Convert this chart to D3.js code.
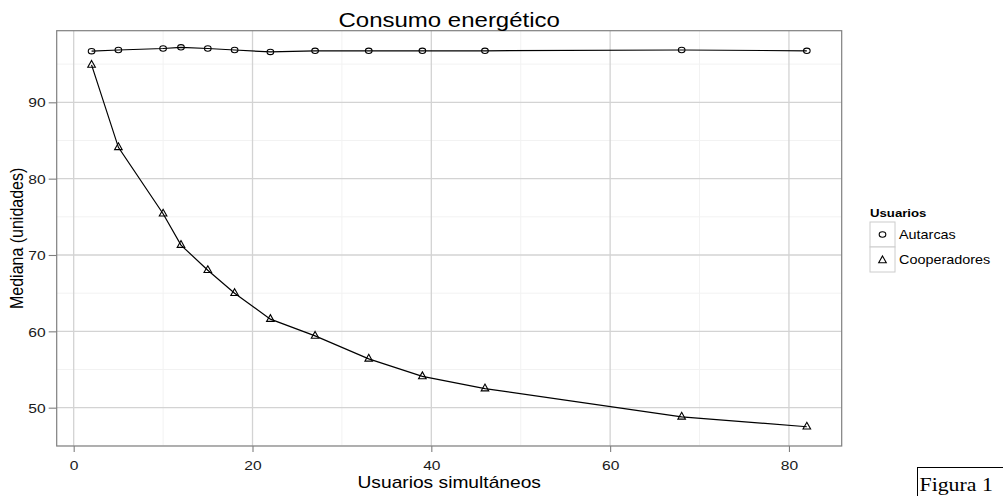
<!DOCTYPE html>
<html>
<head>
<meta charset="utf-8">
<script src="https://cdnjs.cloudflare.com/ajax/libs/d3/7.8.5/d3.min.js"></script>
<style>
  body { margin: 0; background: #fff; }
  svg { display: block; font-family: "Liberation Sans", Arial, sans-serif; }
</style>
</head>
<body>
<div id="chart"></div>
<script>
(function () {
    // Data
    const usuarios = [2, 5, 10, 12, 15, 18, 22, 27, 33, 39, 46, 68, 82];
    const autarcas = [96.7, 96.85, 97.05, 97.2, 97.05, 96.85, 96.6, 96.75, 96.75, 96.75, 96.75, 96.85, 96.75];
    const cooperadores = [94.9, 84.1, 75.4, 71.3, 68.0, 65.0, 61.6, 59.4, 56.4, 54.1, 52.5, 48.8, 47.5];
    const seriesNames = ["Autarcas", "Cooperadores"];
    const xTicks = [0, 20, 40, 60, 80];
    const yTicks = [50, 60, 70, 80, 90];
    const xMinor = [10, 30, 50, 70];
    const yMinor = [45, 55, 65, 75, 85, 95];

    // The picture is stretched horizontally, text follows that
    const sx = 1.2;

    const width = 1003, height = 496;
    const panel = { left: 56.7, right: 841.7, top: 30.7, bottom: 446 };

    const svg = d3.select("#chart")
        .append("svg")
        .attr("width", width)
        .attr("height", height);

    const x = d3.scaleLinear().domain([-1.9, 85.9]).range([panel.left, panel.right]);
    const y = d3.scaleLinear().domain([44.98, 99.38]).range([panel.bottom, panel.top]);

    // panel background
    svg.append("rect")
        .attr("x", panel.left).attr("y", panel.top)
        .attr("width", panel.right - panel.left)
        .attr("height", panel.bottom - panel.top)
        .attr("fill", "#fff");

    // minor grid
    svg.selectAll(".minor-x").data(xMinor).enter().append("line")
        .attr("x1", d => x(d)).attr("x2", d => x(d))
        .attr("y1", panel.top).attr("y2", panel.bottom)
        .attr("stroke", "#f2f2f2").attr("stroke-width", 1);
    svg.selectAll(".minor-y").data(yMinor).enter().append("line")
        .attr("y1", d => y(d)).attr("y2", d => y(d))
        .attr("x1", panel.left).attr("x2", panel.right)
        .attr("stroke", "#f2f2f2").attr("stroke-width", 1);

    // major grid
    svg.selectAll(".major-x").data(xTicks).enter().append("line")
        .attr("x1", d => x(d)).attr("x2", d => x(d))
        .attr("y1", panel.top).attr("y2", panel.bottom)
        .attr("stroke", "#d3d3d3").attr("stroke-width", 1.3);
    svg.selectAll(".major-y").data(yTicks).enter().append("line")
        .attr("y1", d => y(d)).attr("y2", d => y(d))
        .attr("x1", panel.left).attr("x2", panel.right)
        .attr("stroke", "#d3d3d3").attr("stroke-width", 1.3);

    // axes
    const xAxis = svg.append("g")
        .attr("transform", `translate(0,${panel.bottom})`)
        .call(d3.axisBottom(x).tickValues(xTicks).tickSize(6).tickFormat(d3.format("d")));
    const yAxis = svg.append("g")
        .attr("transform", `translate(${panel.left},0)`)
        .call(d3.axisLeft(y).tickValues(yTicks).tickSize(8).tickFormat(d3.format("d")));

    [xAxis, yAxis].forEach(a => {
        a.select(".domain").remove();
        a.selectAll(".tick line").attr("stroke", "#7f7f7f").attr("stroke-width", 1.1);
        a.selectAll(".tick text")
            .attr("fill", "#1a1a1a")
            .attr("font-size", "13px")
            .attr("font-family", "Liberation Sans, Arial, sans-serif");
    });
    xAxis.selectAll(".tick text")
        .attr("y", 0).attr("dy", null)
        .attr("transform", `translate(0,24) scale(${sx},1)`);
    yAxis.selectAll(".tick text")
        .attr("x", 0).attr("dy", "0.36em")
        .attr("transform", `translate(-11,0) scale(${sx},1)`);

    // panel border
    svg.append("rect")
        .attr("x", panel.left).attr("y", panel.top)
        .attr("width", panel.right - panel.left)
        .attr("height", panel.bottom - panel.top)
        .attr("fill", "none")
        .attr("stroke", "#7f7f7f")
        .attr("stroke-width", 1.2);

    // lines
    const line = d3.line()
        .x((d, i) => x(usuarios[i]))
        .y(d => y(d));

    [autarcas, cooperadores].forEach(vals => {
        svg.append("path")
            .datum(vals)
            .attr("d", line)
            .attr("fill", "none")
            .attr("stroke", "#000")
            .attr("stroke-width", 1.2);
    });

    // point shapes
    const trianglePath = "M0,-4.5L3.8,2.3L-3.8,2.3Z";

    svg.selectAll(".pt-aut").data(autarcas).enter().append("ellipse")
        .attr("cx", (d, i) => x(usuarios[i]))
        .attr("cy", d => y(d))
        .attr("rx", 3.3).attr("ry", 2.7)
        .attr("fill", "none")
        .attr("stroke", "#000")
        .attr("stroke-width", 1.1);

    svg.selectAll(".pt-coop").data(cooperadores).enter().append("path")
        .attr("d", trianglePath)
        .attr("transform", (d, i) => `translate(${x(usuarios[i])},${y(d)})`)
        .attr("fill", "none")
        .attr("stroke", "#000")
        .attr("stroke-width", 1.1);

    // title
    svg.append("text")
        .attr("transform", `translate(${(panel.left + panel.right) / 2},26.5) scale(${sx},1)`)
        .attr("text-anchor", "middle")
        .attr("font-size", "20px")
        .attr("fill", "#000")
        .text("Consumo energético");

    // axis titles
    svg.append("text")
        .attr("transform", `translate(${(panel.left + panel.right) / 2},488) scale(${sx},1)`)
        .attr("text-anchor", "middle")
        .attr("font-size", "16px")
        .attr("fill", "#000")
        .text("Usuarios simultáneos");

    svg.append("text")
        .attr("transform", `translate(23,${(panel.top + panel.bottom) / 2}) scale(${sx},1) rotate(-90)`)
        .attr("text-anchor", "middle")
        .attr("font-size", "16px")
        .attr("fill", "#000")
        .text("Mediana (unidades)");

    // legend
    const legend = svg.append("g").attr("transform", "translate(870,0)");
    legend.append("text")
        .attr("transform", `translate(0,217) scale(${sx},1)`)
        .attr("font-size", "11px")
        .attr("font-weight", "bold")
        .attr("fill", "#000")
        .text("Usuarios");

    const keyH = 25, keyW = 25, keyTop = 222;
    const keys = legend.selectAll(".key").data(seriesNames).enter().append("g")
        .attr("transform", (d, i) => `translate(0,${keyTop + i * keyH})`);
    keys.append("rect")
        .attr("width", keyW).attr("height", keyH)
        .attr("fill", "#fff")
        .attr("stroke", "#cccccc")
        .attr("stroke-width", 1);
    keys.filter((d, i) => i === 0).append("ellipse")
        .attr("cx", keyW / 2).attr("cy", keyH / 2)
        .attr("rx", 3.3).attr("ry", 2.7)
        .attr("fill", "none").attr("stroke", "#000").attr("stroke-width", 1.1);
    keys.filter((d, i) => i === 1).append("path")
        .attr("d", trianglePath)
        .attr("transform", `translate(${keyW / 2},${keyH / 2 + 1})`)
        .attr("fill", "none").attr("stroke", "#000").attr("stroke-width", 1.1);
    keys.append("text")
        .attr("transform", `translate(${keyW + 4},${keyH / 2 + 4.5}) scale(${sx},1)`)
        .attr("font-size", "12px")
        .attr("fill", "#000")
        .text(d => d);

    // "Figura 1" caption box
    svg.append("rect")
        .attr("x", 917.5).attr("y", 467.5)
        .attr("width", 100).attr("height", 40)
        .attr("fill", "#fff")
        .attr("stroke", "#000")
        .attr("stroke-width", 1);
    svg.append("text")
        .attr("transform", "translate(919.5,491) scale(1.12,1)")
        .attr("font-family", "Liberation Serif, Times New Roman, serif")
        .attr("font-size", "19.5px")
        .attr("fill", "#000")
        .text("Figura 1");
})();
</script>
</body>
</html>
